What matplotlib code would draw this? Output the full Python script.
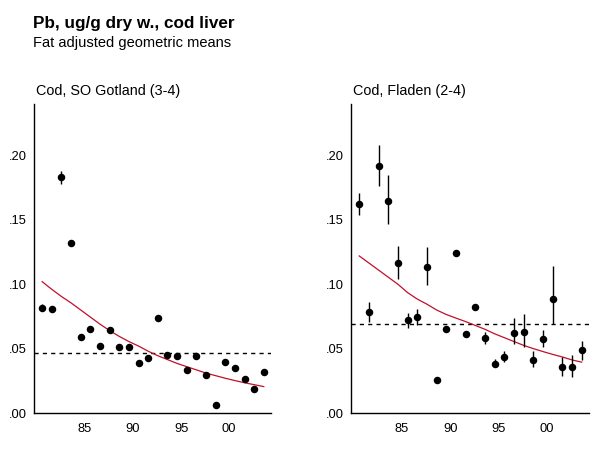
import matplotlib
matplotlib.use("Agg")
import matplotlib.pyplot as plt
import matplotlib.transforms as mtransforms
from matplotlib.ticker import FixedLocator, FuncFormatter

plt.rcParams['font.family'] = ['Liberation Sans', 'DejaVu Sans']

title = "Pb, ug/g dry w., cod liver"
subtitle = "Fat adjusted geometric means"

# Left panel: Cod, SO Gotland (3-4)
left_title = "Cod, SO Gotland (3-4)"
left_years = [1981, 1982, 1983, 1984, 1985, 1986, 1987, 1988, 1989, 1990, 1991, 1992,
              1993, 1994, 1995, 1996, 1997, 1998, 1999, 2000, 2001, 2002, 2003, 2004]
left_vals = [0.0819, 0.0804, 0.183, 0.1323, 0.0592, 0.0649, 0.0517, 0.0641, 0.0512, 0.0512,
             0.0385, 0.0424, 0.0734, 0.0447, 0.0439, 0.0331, 0.0442, 0.0295, 0.006, 0.0398,
             0.0346, 0.0261, 0.0186, 0.0315]
left_lo = [0.0793, 0.0804, 0.178, 0.1303, 0.0592, 0.0649, 0.0517, 0.0641, 0.0512, 0.0512,
           0.0385, 0.0424, 0.0734, 0.0447, 0.0439, 0.0331, 0.0442, 0.0295, 0.006, 0.0398,
           0.0346, 0.0261, 0.0186, 0.0315]
left_hi = [0.0845, 0.0804, 0.188, 0.1342, 0.0592, 0.0649, 0.0517, 0.0641, 0.0512, 0.0512,
           0.0385, 0.0424, 0.0734, 0.0447, 0.0439, 0.0331, 0.0442, 0.0295, 0.006, 0.0398,
           0.0346, 0.0261, 0.0186, 0.0315]
left_trend = [0.102, 0.096, 0.0905, 0.0855, 0.080, 0.0745, 0.069, 0.064, 0.0595, 0.0555,
              0.052, 0.048, 0.0445, 0.0415, 0.0385, 0.036, 0.0335, 0.031, 0.029, 0.027,
              0.0252, 0.0235, 0.022, 0.0205]
left_ref = 0.0465

# Right panel: Cod, Fladen (2-4)
right_title = "Cod, Fladen (2-4)"
right_years = [1981, 1982, 1983, 1984, 1985, 1986, 1987, 1988, 1989, 1990, 1991, 1992,
               1993, 1994, 1995, 1996, 1997, 1998, 1999, 2000, 2001, 2002, 2003, 2004]
right_vals = [0.162, 0.0783, 0.1917, 0.1646, 0.1163, 0.0721, 0.0744, 0.1137, 0.026, 0.0651,
              0.124, 0.0617, 0.0822, 0.0581, 0.038, 0.0434, 0.0625, 0.0628, 0.0413, 0.0578,
              0.0884, 0.0357, 0.0357, 0.0486]
right_lo = [0.1537, 0.071, 0.1764, 0.147, 0.1043, 0.0664, 0.0682, 0.0997, 0.025, 0.0651,
            0.124, 0.0612, 0.0822, 0.0533, 0.0356, 0.0393, 0.0533, 0.0516, 0.0354, 0.0516,
            0.069, 0.029, 0.0276, 0.0413]
right_hi = [0.1705, 0.0863, 0.208, 0.1845, 0.1297, 0.0775, 0.0806, 0.1291, 0.027, 0.0651,
            0.124, 0.0622, 0.0822, 0.0627, 0.042, 0.0483, 0.0738, 0.0772, 0.0483, 0.0646,
            0.1144, 0.0434, 0.0452, 0.0560]
right_trend = [0.122, 0.1165, 0.111, 0.1055, 0.100, 0.0935, 0.0885, 0.0845, 0.080, 0.0765,
               0.0737, 0.071, 0.068, 0.065, 0.0615, 0.0585, 0.0555, 0.0525, 0.050, 0.0477,
               0.0455, 0.0435, 0.0412, 0.0395]
right_ref = 0.0692

y_ticks = [0.0, 0.05, 0.10, 0.15, 0.20]
x_ticks = [1985, 1990, 1995, 2000]
x_tick_labels = ["85", "90", "95", "00"]

W, H = 616, 451
fig = plt.figure(figsize=(W / 100, H / 100), dpi=100)

fig.text(33 / W, 1 - 28 / H, title, fontsize=12.3, fontweight='bold', va='baseline', ha='left')
fig.text(33 / W, 1 - 46.7 / H, subtitle, fontsize=10.5, va='baseline', ha='left')

panels = [
    (34, 237, left_title, left_years, left_vals, left_lo, left_hi, left_trend, left_ref, 36),
    (351, 238, right_title, right_years, right_vals, right_lo, right_hi, right_trend, right_ref, 353),
]

red = '#C0102A'
for (x0, w, ttl, yrs, vals, lo, hi, trend, ref, tx) in panels:
    ax = fig.add_axes([x0 / W, 1 - 413 / H, w / W, (413 - 104) / H])
    ax.set_xlim(1980.15, 2004.75)
    ax.set_ylim(0, 0.24)
    for s in ['top', 'right']:
        ax.spines[s].set_visible(False)
    for s in ['left', 'bottom']:
        ax.spines[s].set_linewidth(1.0)
        ax.spines[s].set_color('black')
    yerr = [[v - l for v, l in zip(vals, lo)], [h - v for v, h in zip(vals, hi)]]
    ax.errorbar(yrs, vals, yerr=yerr, fmt='o', color='black', ms=4.4,
                elinewidth=1.0, capsize=0, zorder=3)
    ax.plot(yrs, trend, color=red, lw=0.9, zorder=2)
    ax.axhline(ref, color='black', lw=1.0, ls=(0, (3, 3)), zorder=1)
    ax.yaxis.set_major_locator(FixedLocator(y_ticks))
    ax.yaxis.set_major_formatter(FuncFormatter(lambda v, p: ("%.2f" % v)[1:]))
    ax.set_xticks(x_ticks)
    ax.set_xticklabels(x_tick_labels)
    ax.tick_params(axis='both', length=0, labelsize=9.3)
    ax.tick_params(axis='y', pad=5)
    ax.tick_params(axis='x', pad=7)
    off = mtransforms.ScaledTranslation(4 / 100, 0, fig.dpi_scale_trans)
    for lab in ax.get_xticklabels():
        lab.set_transform(lab.get_transform() + off)
    fig.text(tx / W, 1 - 95 / H, ttl, fontsize=10.4, va='baseline', ha='left')

fig.savefig("out.png", dpi=100)
